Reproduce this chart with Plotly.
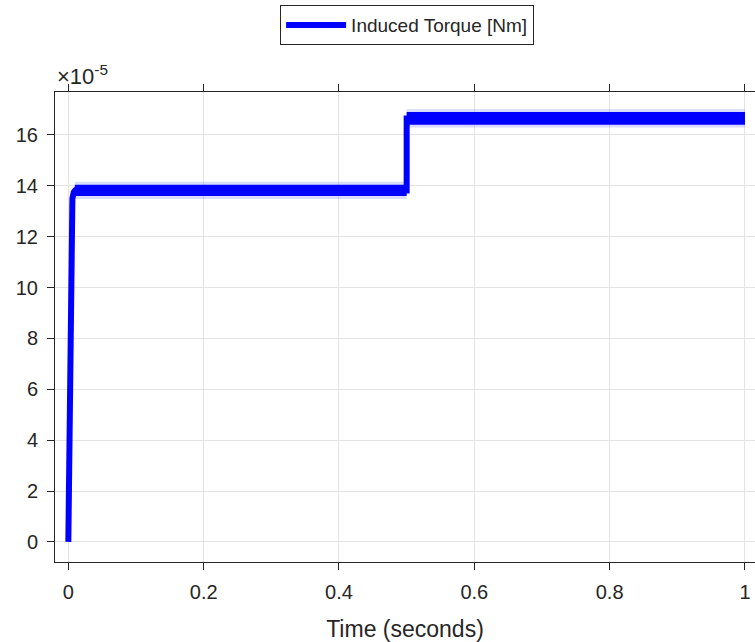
import plotly.graph_objects as go

# ---- data (torque in units of 1e-5 N*m) ----
time_s = [0.0, 0.001, 0.002, 0.003, 0.004, 0.005, 0.006, 0.008, 0.010, 0.5, 0.5, 1.0]
torque_e5 = [0.0, 3.2, 6.3, 9.2, 11.6, 12.9, 13.5, 13.75, 13.82, 13.82, 16.65, 16.65]
# ripple envelope half-width of the steady parts (same units)
ripple_core = [0, 0, 0, 0, 0, 0, 0, 0.12, 0.22, 0.22, 0.25, 0.25]
ripple_fringe = [0, 0, 0, 0, 0, 0, 0, 0.2, 0.34, 0.34, 0.36, 0.36]

x_ticks = [0, 0.2, 0.4, 0.6, 0.8, 1.0]
x_tick_text = ["0", "0.2", "0.4", "0.6", "0.8", "1"]
y_ticks = [0, 2, 4, 6, 8, 10, 12, 14, 16]
y_tick_text = ["0", "2", "4", "6", "8", "10", "12", "14", "16"]

legend_name = "Induced Torque [Nm]"
x_title = "Time (seconds)"

FONT = "Liberation Sans, Arial, Helvetica, sans-serif"
TXT = "#262626"
BLUE = "#0000ff"

fig = go.Figure()

# faint ripple fringe
fig.add_trace(go.Scatter(x=time_s, y=[t + r for t, r in zip(torque_e5, ripple_fringe)],
                         mode="lines", line=dict(width=0), showlegend=False, hoverinfo="skip"))
fig.add_trace(go.Scatter(x=time_s, y=[t - r for t, r in zip(torque_e5, ripple_fringe)],
                         mode="lines", line=dict(width=0), fill="tonexty",
                         fillcolor="rgba(90,90,255,0.22)", showlegend=False, hoverinfo="skip"))
# dense ripple core
fig.add_trace(go.Scatter(x=time_s, y=[t + r for t, r in zip(torque_e5, ripple_core)],
                         mode="lines", line=dict(width=0), showlegend=False, hoverinfo="skip"))
fig.add_trace(go.Scatter(x=time_s, y=[t - r for t, r in zip(torque_e5, ripple_core)],
                         mode="lines", line=dict(width=0), fill="tonexty",
                         fillcolor=BLUE, showlegend=False, hoverinfo="skip"))
# main signal
fig.add_trace(go.Scatter(x=time_s, y=torque_e5, mode="lines", name=legend_name,
                         line=dict(color=BLUE, width=6)))

fig.update_layout(
    width=755, height=642,
    margin=dict(l=55, r=0, t=92, b=80, autoexpand=False),
    paper_bgcolor="white", plot_bgcolor="white",
    font=dict(family=FONT, color=TXT, size=20),
    showlegend=True,
    legend=dict(x=0.503, y=1.185, xanchor="center", yanchor="top",
                bordercolor=TXT, borderwidth=1, bgcolor="white",
                font=dict(size=19, family=FONT, color=TXT),
                itemwidth=60, tracegroupgap=0),
)

fig.update_xaxes(
    range=[-0.0197, 1.0148], tickvals=x_ticks, ticktext=x_tick_text,
    showgrid=True, gridcolor="#e3e3e3", gridwidth=1, zeroline=False,
    showline=True, linecolor=TXT, linewidth=1, mirror="ticks",
    ticks="outside", ticklen=7, tickcolor=TXT, tickfont=dict(size=20),
    ticklabelstandoff=5,
    title=dict(text=x_title, font=dict(size=23), standoff=20),
)
fig.update_yaxes(
    range=[-0.79, 17.69], tickvals=y_ticks, ticktext=y_tick_text,
    showgrid=True, gridcolor="#e3e3e3", gridwidth=1, zeroline=False,
    showline=True, linecolor=TXT, linewidth=1,
    ticks="outside", ticklen=7, tickcolor=TXT, tickfont=dict(size=20),
    ticklabelstandoff=5,
)

fig.add_annotation(xref="paper", yref="paper", x=0.0, y=1.0, xanchor="left", yanchor="bottom",
                   text="×10<sup>-5</sup>", showarrow=False, xshift=0, yshift=1,
                   font=dict(size=22, family=FONT, color=TXT))

fig.write_html("out.html")
